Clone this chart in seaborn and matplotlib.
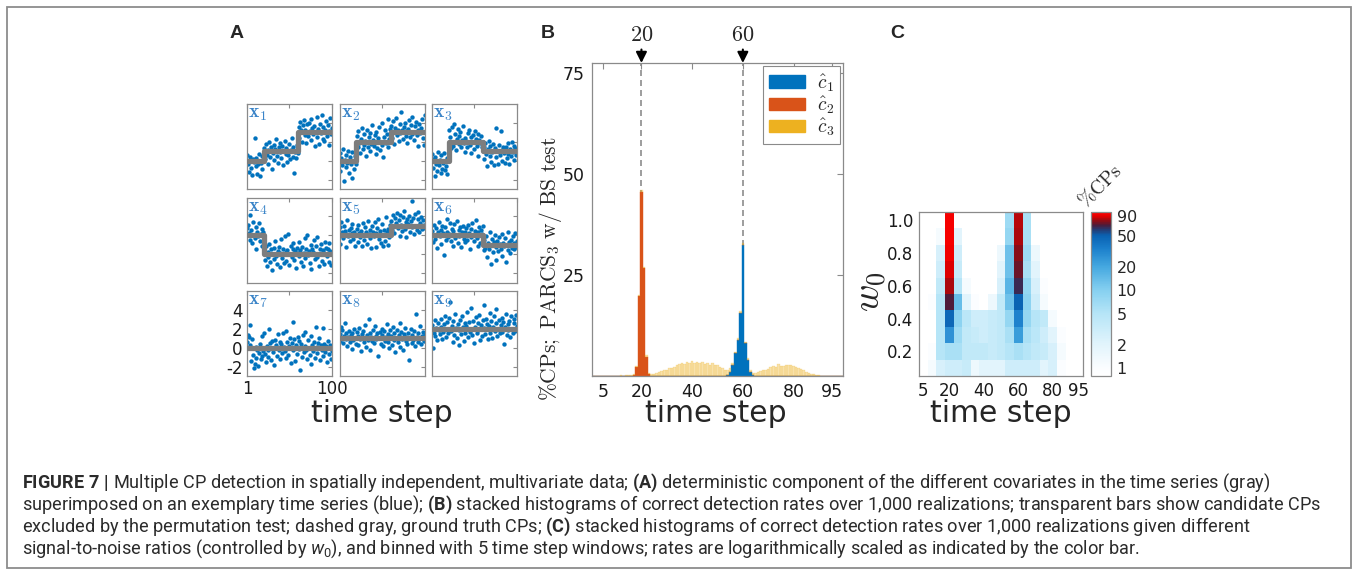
import numpy as np
import pandas as pd
import matplotlib
matplotlib.use("Agg")
import matplotlib.pyplot as plt
from matplotlib.colors import LogNorm, LinearSegmentedColormap, to_rgb
from matplotlib.patches import Patch, Rectangle
import seaborn as sns

# ---------------- (A) exemplary multivariate time series ----------------
time_steps = list(range(1, 101))
true_cps = [20, 60]

# deterministic level of each covariate on the segments [1-20], [21-60], [61-100]
levels_x1 = [0, 1, 3]
levels_x2 = [0, 2, 3]
levels_x3 = [0, 2, 1]
levels_x4 = [2, 0, 0]
levels_x5 = [2, 2, 3]
levels_x6 = [2, 2, 1]
levels_x7 = [0, 0, 0]
levels_x8 = [1, 1, 1]
levels_x9 = [2, 2, 2]

obs_x1 = [0.6, -0.3, -1.2, 0.1, 0.4, -0.8, -1.5, 0.2, -0.1, 2.4, -0.6, 0.3, -1.4, -0.4, 0.7, -1.6, -0.2, 0.5, -0.9, 0.0,
          1.3, 0.2, 1.8, 0.6, -0.4, 1.1, 2.0, 0.4, 1.5, -0.9, 0.8, 1.7, 0.1, 1.2, 2.3, 0.5, -0.2, 1.4, 0.9, 1.9,
          0.3, 1.6, -0.5, 1.0, 2.1, 0.7, 1.3, -0.1, 0.6, 1.8, 0.2, 1.1, 2.4, 0.4, 1.5, -1.3, 0.9, 0.3, 1.7, 0.8,
          3.6, 2.4, 4.1, 3.2, 2.0, 3.8, 4.3, 2.7, 3.3, 1.9, 3.9, 2.6, 4.0, 3.1, 2.2, 4.4, 3.5, 2.8, 3.7, 1.6,
          3.0, 4.6, 2.5, 3.4, 1.8, 3.9, 2.9, 4.8, 2.3, 3.6, 2.1, 3.3, 4.2, 2.6, 3.8, 1.7, 3.1, 4.5, 2.8, 3.5]
obs_x2 = [0.8, -1.1, 0.3, -0.5, 1.2, -2.1, 0.1, -0.7, 0.6, -0.2, 1.0, -1.3, 0.4, -0.4, -1.8, 0.9, 0.0, -0.9, 0.5, -0.3,
          2.6, 1.5, 3.1, 1.9, 0.8, 2.3, 3.5, 1.2, 2.8, 1.7, 2.1, 0.5, 3.3, 1.4, 2.5, 1.0, 2.9, 1.8, 3.8, 2.2,
          1.6, 2.7, 0.7, 3.0, 1.3, 2.4, 3.6, 1.1, 2.0, 4.0, 1.7, 0.4, 2.5, 3.2, 1.9, 2.8, 4.4, 1.5, 2.3, 3.4,
          3.7, 2.4, 4.2, 3.0, 1.8, 3.5, 4.5, 2.7, 3.2, 2.1, 3.9, 2.9, 5.2, 3.3, 2.3, 3.6, 4.0, 2.6, 3.1, 1.9,
          3.4, 4.3, 2.5, 3.8, 2.8, 4.6, 3.0, 2.2, 3.7, 4.1, 2.7, 3.3, 1.6, 3.9, 2.9, 3.5, 4.4, 2.4, 1.7, 4.8]
obs_x3 = [0.7, -0.8, 0.2, -1.6, 0.4, -0.3, -1.1, 0.9, -0.5, 0.1, -1.3, 0.6, -0.9, -0.2, 0.8, -1.0, -0.6, 0.3, -1.4, 0.0,
          3.2, 2.5, 1.3, 3.6, 2.0, 1.6, 3.9, 2.8, 1.1, 2.3, 3.4, 1.8, 2.6, 3.0, 1.4, 2.2, 3.7, 1.9, 2.4, 0.9,
          2.1, 1.5, 2.9, 3.3, 1.7, 2.5, 0.8, 2.0, 2.7, 1.2, 3.1, 2.3, 1.6, 2.8, 0.5, 2.2, 1.9, 2.6, 1.4, 2.0,
          1.4, 0.2, 1.9, 0.7, -0.6, 1.2, 2.1, 0.5, 1.6, -0.1, 0.9, 1.8, -0.5, 1.3, 0.4, 3.5, 1.0, -0.3, 1.7, 0.6,
          3.1, 1.1, 0.0, 1.5, 0.8, -0.2, 1.4, 0.3, 1.9, 0.7, -0.4, 1.2, 0.5, 2.0, 0.9, 1.6, 0.1, 1.3, 0.6, 1.0]
obs_x4 = [2.8, 3.1, 2.2, 1.5, 4.1, 2.6, 1.2, 3.4, 2.0, 1.7, 2.9, 0.6, 2.4, 1.9, 3.3, 1.4, 2.1, 2.7, 0.9, 2.3,
          0.4, -0.6, 0.9, -1.2, 0.2, -0.3, 1.1, -0.8, 0.5, -1.7, 0.0, 0.7, -0.5, 1.4, -0.2, -1.0, 0.3, 0.8, -1.4, 0.1,
          1.6, -0.4, 0.6, -0.9, 1.9, 0.2, -0.7, 0.4, 2.1, -1.1, 0.0, 0.9, -0.3, 0.5, 1.2, -0.6, 0.3, -1.5, 0.7, 0.1,
          -0.2, 1.3, 0.4, -0.8, 0.8, -1.3, 0.1, 1.7, -0.4, 0.6, 2.0, -0.1, 0.3, -0.9, 1.0, -1.6, 0.5, 0.2, 1.5, -0.5,
          0.9, -0.3, 1.8, 0.0, -1.2, 0.6, 1.1, -0.7, 0.2, 0.4, -1.0, 1.3, 0.7, -0.2, 0.5, 1.2, -0.8, 0.3, -1.1, 0.1]
obs_x5 = [2.9, 1.1, 3.4, 2.3, 1.7, 3.0, 2.5, 0.8, 2.1, 3.6, 1.9, 2.6, 1.4, 2.8, 2.2, 3.2, 1.6, 2.4, 0.9, 2.0,
          2.7, 1.3, 3.1, 2.2, 1.8, 2.5, 0.9, 3.3, 2.0, 1.5, 2.9, 2.4, 1.1, 3.5, 2.1, 1.7, 2.6, 0.7, 3.0, 2.3,
          1.9, 3.4, 2.2, 0.8, 2.8, 3.7, 1.6, 2.5, 1.2, 3.2, 2.0, 0.9, 2.6, 1.4, 3.9, 2.3, 1.0, 2.7, 1.8, 3.1,
          3.5, 2.6, 4.1, 3.0, 2.2, 3.8, 3.3, 4.4, 2.8, 3.6, 1.9, 4.2, 3.1, 2.5, 3.9, 4.6, 2.7, 3.4, 1.8, 3.7,
          3.2, 4.0, 2.4, 3.5, 5.6, 2.9, 3.8, 2.1, 4.3, 3.0, 2.6, 3.7, 4.5, 2.3, 3.3, 3.9, 2.7, 3.6, 3.1, 2.8]
obs_x6 = [2.5, 1.3, 3.1, 2.0, 1.6, 2.8, 0.7, 2.3, 3.4, 1.9, 2.6, 1.1, 3.0, 2.2, -0.1, 2.9, 1.5, 2.4, 3.7, 1.8,
          2.1, 3.3, 1.4, 2.7, 0.9, 2.5, 3.2, 1.7, 2.0, 3.5, 1.2, 2.6, 1.9, 2.9, 0.8, 2.3, 3.0, 1.6, 2.4, 1.3,
          2.8, 1.5, 3.1, 2.2, 0.6, 2.7, 1.8, 3.3, 2.0, 1.4, 2.5, 3.6, 1.7, 2.3, 0.9, 2.9, 1.2, 2.6, 2.1, 3.0,
          0.4, 1.5, 0.7, 1.9, -0.3, 1.2, 0.5, 2.3, 1.0, -1.0, 1.6, 0.2, 1.3, 2.0, 0.8, -0.6, 1.4, 0.3, 1.8, 1.1,
          0.6, 2.1, -0.2, 1.2, 0.9, 1.7, -0.8, 1.0, 0.4, 2.4, 1.3, 0.1, 1.5, 0.7, 1.9, 0.5, 1.2, 2.2, 0.8, 1.4]
obs_x7 = [0.6, 1.3, 1.1, 2.4, 0.3, -1.4, 0.9, -0.8, -2.2, -1.7, 0.1, -1.1, -0.3, -1.9, -0.6, 0.4, -1.2, 1.2, -0.9, -0.4,
          1.5, -0.7, -1.5, 0.2, -0.2, -1.0, 2.0, 0.5, -1.3, 0.7, -0.5, 0.0, -1.8, 0.8, 0.3, -0.9, 1.4, -0.3, 0.6, -1.2,
          0.4, -0.6, 1.6, 0.1, -0.4, 1.8, -1.1, 0.6, -0.8, 0.2, 1.0, -1.6, 0.5, 2.7, -0.2, 0.9, -1.4, 0.3, -0.7, 1.1,
          -0.1, 0.7, -2.4, 0.4, -1.0, 1.3, -0.5, 0.2, 1.7, -0.3, -1.2, 0.8, 0.0, -0.8, 1.2, -1.7, 0.3, -0.4, 0.6, -1.1,
          2.2, 0.1, -0.6, 0.5, 1.0, -1.3, 0.3, -0.2, 2.1, -0.9, 0.4, -0.5, 0.2, -1.5, 0.7, 0.0, -0.7, 0.3, -1.2, -0.4]
obs_x8 = [1.4, 0.7, 2.2, 1.9, 0.5, 1.2, 2.6, 0.9, 1.6, 0.2, 1.1, 1.8, 0.6, 1.3, -0.1, 1.5, 0.8, 2.0, 1.0, 0.4,
          1.7, 0.3, 1.2, 2.1, 0.9, -0.4, 1.4, 1.8, 0.6, 1.0, 2.4, 0.1, 1.3, 0.8, 3.0, 1.5, -0.2, 1.1, 0.7, 1.9,
          0.5, 2.3, 1.2, 0.9, 1.6, -0.9, 1.0, 1.7, 0.4, 2.0, 1.3, 0.2, 1.8, 0.7, 1.1, 2.5, 0.6, 1.4, 0.0, 1.9,
          1.2, 0.3, 2.2, 0.8, 1.5, -0.5, 1.0, 1.9, 0.6, 1.3, 2.6, 0.1, 1.7, 0.9, -0.3, 1.4, 2.1, 0.7, 1.1, 0.4,
          1.6, -1.3, 1.0, 2.0, 0.5, 1.3, 0.8, 1.8, 0.2, 3.6, 1.1, 0.6, 1.5, 0.9, 2.3, 0.4, 1.2, 1.7, 0.7, 1.4]
obs_x9 = [2.4, 0.0, 1.6, 2.9, 1.2, 2.1, 0.8, 2.6, 1.9, 1.4, 3.0, 2.2, 0.9, 1.7, 2.5, 3.3, 1.1, 2.0, 2.7, 1.5,
          3.1, 4.8, 1.8, 2.3, 0.6, 2.8, 1.3, 3.6, 2.1, 1.0, 2.5, 0.3, 1.9, 2.9, 1.4, 3.4, 2.2, 0.7, 2.6, 1.6,
          2.3, 3.8, 1.1, 2.7, 1.7, 2.0, 4.2, 1.3, 2.8, 0.5, 2.2, 3.2, 1.5, 2.6, 1.9, 3.5, 0.8, 2.4, 1.2, 2.9,
          2.1, 4.5, 1.4, 3.0, 2.5, 0.9, 2.3, 3.7, 1.6, 2.8, 1.0, 2.2, 3.3, 1.8, 2.6, 4.1, 1.2, 2.0, 2.9, 1.5,
          2.4, 3.1, 1.7, 2.7, 0.4, 2.2, 3.6, 1.3, 2.5, 1.9, 2.8, 1.1, 3.4, 2.0, 1.6, 2.6, 3.0, 1.8, 3.5, 2.3]

# ---------------- (B) detection rates per time step (%) ----------------
hist_steps = list(range(1, 100))
rate_c1 = {54: 0.3, 55: 1.1, 56: 2.7, 57: 5.6, 58: 8.9, 59: 15.5, 60: 32.5,
           61: 8.1, 62: 4.0, 63: 1.1, 64: 0.3}
rate_c2 = {17: 0.3, 18: 2.2, 19: 19.7, 20: 45.5, 21: 26.7, 22: 4.8, 23: 0.4}
rate_c3 = [0, 0, 0, 0, 0, 0, 0, 0, 0,
           0.1, 0.1, 0.2, 0.1, 0.2, 0.3, 0.2,
           0.3, 0.3, 0.4, 0.5, 0.4, 0.3, 0.3,
           0.4, 0.6, 0.8, 0.9, 1.2, 1.4, 1.6, 1.9, 2.1, 2.3, 2.6, 3.0, 3.3,
           2.9, 3.5, 3.2, 3.6, 3.3, 3.5, 3.1, 3.4, 3.0, 3.3, 2.8, 3.2, 2.6, 2.7, 2.2, 1.9, 1.5, 1.1, 0.8, 0.5,
           0.4, 0.4, 0.5, 0.5, 0.4, 0.4, 0.4,
           0.5, 0.8, 1.0, 1.3, 1.4, 1.6, 1.7, 2.2, 2.5, 2.3, 3.0, 2.4, 2.5, 2.6, 2.7, 2.6, 2.5, 2.2, 2.0, 1.7,
           1.4, 1.0, 0.8, 0.6, 0.4, 0.3, 0.2, 0.1,
           0, 0, 0, 0, 0, 0, 0, 0]
legend_labels = [r"$\hat{c}_1$", r"$\hat{c}_2$", r"$\hat{c}_3$"]

# ---------------- (C) detection rates (%) by w0 and 5-step window ----------------
time_bins = [5, 10, 15, 20, 25, 30, 35, 40, 45, 50, 55, 60, 65, 70, 75, 80, 85, 90, 95]
w0_levels = [1.0, 0.9, 0.8, 0.7, 0.6, 0.5, 0.4, 0.3, 0.2, 0.1]
rate_w10 = [0, 0, 0, 96, 0, 0, 0, 0, 0, 0, 7, 82, 6, 0, 0, 0, 0, 0, 0]
rate_w09 = [0, 0, 1.2, 95, 2, 0, 0, 0, 0, 0, 8, 80, 6, 0, 0, 0, 0, 0, 0]
rate_w08 = [0, 0, 2.5, 94, 3, 0, 0, 0, 0, 1.5, 13, 76, 7, 1.5, 0, 0, 0, 0, 0]
rate_w07 = [0, 0, 3, 86, 3.5, 0, 0, 0, 0, 2, 13, 72, 6, 2, 0, 0, 0, 0, 0]
rate_w06 = [0, 0, 4, 80, 5, 1.2, 0, 0, 0, 2.5, 16, 64, 8, 2.5, 1, 0, 0, 0, 0]
rate_w05 = [0, 1, 5, 68, 14, 2, 1, 0, 1.5, 4, 13, 49, 9, 3, 1.2, 0, 0, 0, 0]
rate_w04 = [0, 0, 5, 47, 9, 4.5, 3, 3, 3.5, 4, 8, 33, 8, 5, 4, 1.2, 0, 0, 0]
rate_w03 = [0, 0, 5, 27, 7, 4, 3.5, 3, 3.5, 4, 6, 23, 6, 4.5, 3, 2, 1, 0, 0]
rate_w02 = [0, 1, 5, 6, 6, 4, 4, 4, 3.5, 4, 5, 6, 5, 4, 3.5, 2.5, 1.2, 0, 0]
rate_w01 = [0, 1.2, 2.5, 3, 3, 3.5, 1.5, 2, 2, 2, 3, 3, 3, 3, 2, 2.5, 1, 0, 0]
cbar_ticks = [1, 2, 5, 10, 20, 50, 90]

# ---------------- styling ----------------
sns.set_style("white")
plt.rcParams.update({
    "font.family": "DejaVu Sans",
    "mathtext.fontset": "cm",
    "mathtext.rm": "Roboto",
    "mathtext.it": "Roboto:italic",
    "mathtext.bf": "Roboto:bold",
})
BLUE, ORANGE, YELLOW = "#0072BD", "#D95319", "#EDB120"
SPINE = "#8a8a8a"
W, H = 1358, 575
fig = plt.figure(figsize=(W / 100, H / 100), dpi=100)


def px_axes(x, y, w, h):
    """Axes placed by its pixel box (left, top, width, height)."""
    return fig.add_axes([x / W, 1 - (y + h) / H, w / W, h / H])


def frame_axes(ax):
    for sp in ax.spines.values():
        sp.set_visible(True)
        sp.set_color(SPINE)
        sp.set_linewidth(0.9)
    ax.tick_params(direction="in", top=True, right=True, color=SPINE,
                   length=3, width=0.8, labelcolor="#1a1a1a")


def segment_series(levels):
    return [levels[0] if t <= true_cps[0] else levels[1] if t <= true_cps[1] else levels[2]
            for t in time_steps]


# ---------------- panel A ----------------
panels_A = [(obs_x1, levels_x1), (obs_x2, levels_x2), (obs_x3, levels_x3),
            (obs_x4, levels_x4), (obs_x5, levels_x5), (obs_x6, levels_x6),
            (obs_x7, levels_x7), (obs_x8, levels_x8), (obs_x9, levels_x9)]
A_left = [247, 339.5, 432]
A_top = [104, 197.5, 291]
for k, (obs, lev) in enumerate(panels_A):
    r, c = divmod(k, 3)
    ax = px_axes(A_left[c], A_top[r], 85, 85)
    sns.scatterplot(x=time_steps, y=obs, ax=ax, color=BLUE, s=10, linewidth=0, zorder=2)
    sns.lineplot(x=time_steps, y=segment_series(lev), ax=ax, color="#7d7d7d", lw=3.8,
                 drawstyle="steps-mid", zorder=3)
    ax.set(xlim=(1, 100), ylim=(-3, 6), xticks=[1, 50, 100], yticks=[-2, 0, 2, 4])
    frame_axes(ax)
    ax.tick_params(labelsize=12, pad=3)
    if k == 6:
        ax.set_xticklabels(["1", "", "100"])
        ax.set_yticklabels(["-2", "0", "2", "4"])
    else:
        ax.set_xticklabels([])
        ax.set_yticklabels([])
    ax.text(0.015, 0.995, r"$\mathbf{x}_{%d}$" % (k + 1), transform=ax.transAxes,
            ha="left", va="top", color="#3a84c8", fontsize=14, zorder=5)
fig.text(382 / W, 1 - 413 / H, "time step", ha="center", va="center", fontsize=21.5)

# ---------------- panel B ----------------
axB = px_axes(592, 63, 251, 313)
dfB = pd.concat([
    pd.DataFrame({"t": hist_steps, "pct": [rate_c1.get(t, 0) for t in hist_steps], "series": "c1"}),
    pd.DataFrame({"t": hist_steps, "pct": [rate_c2.get(t, 0) for t in hist_steps], "series": "c2"}),
    pd.DataFrame({"t": hist_steps, "pct": rate_c3, "series": "c3"}),
], ignore_index=True)
sns.histplot(data=dfB, x="t", weights="pct", hue="series", hue_order=["c3", "c2", "c1"],
             palette={"c1": BLUE, "c2": ORANGE, "c3": YELLOW}, multiple="stack",
             discrete=True, shrink=1, alpha=1, linewidth=0.3, legend=False, ax=axB)
for p in axB.patches:
    fc = p.get_facecolor()
    p.set_edgecolor(fc)
    if np.allclose(fc[:3], to_rgb(YELLOW), atol=0.02):
        p.set_alpha(0.38)
for cp in true_cps:
    axB.axvline(cp, color="#8c8c8c", lw=1.2, ls=(0, (3.6, 2.4)), zorder=0.5)
    axB.annotate(r"$%d$" % cp, xy=(cp, 1.0), xycoords=("data", "axes fraction"),
                 xytext=(cp, 1.058), textcoords=("data", "axes fraction"),
                 ha="center", va="bottom", fontsize=16, annotation_clip=False,
                 arrowprops=dict(arrowstyle="-|>", color="k", lw=1.5, mutation_scale=16,
                                 shrinkA=1, shrinkB=0))
axB.set(xlim=(0.5, 99.5), ylim=(0, 77.5), xticks=[5, 20, 40, 60, 80, 95], yticks=[25, 50, 75])
frame_axes(axB)
axB.tick_params(labelsize=12.5, pad=5, length=4)
axB.set_xlabel("time step", fontsize=21.5)
axB.xaxis.set_label_coords((716 - 592) / 251, (376 - 413) / 313)
axB.xaxis.label.set_va("center")
axB.set_ylabel(r"$\%\mathrm{CPs;\ PARCS}_3\ \mathrm{w/\ BS\ test}$", fontsize=15.5)
axB.yaxis.set_label_coords((550 - 592) / 251, (376 - 269) / 313)
axB.yaxis.label.set_va("center")
handles = [Patch(facecolor=col, edgecolor=col) for col in (BLUE, ORANGE, YELLOW)]
leg = axB.legend(handles, legend_labels, loc="upper right", bbox_to_anchor=(0.99, 0.99),
                 borderaxespad=0, fontsize=14, handlelength=1.9, handleheight=0.6,
                 handletextpad=0.6, borderpad=0.3, labelspacing=0.02, fancybox=False,
                 framealpha=1)
leg.get_frame().set_edgecolor(SPINE)
leg.get_frame().set_linewidth(0.8)

# ---------------- panel C ----------------
axC = px_axes(919, 212, 164, 164)
caxC = px_axes(1091, 212, 20, 164)
norm = LogNorm(vmin=0.8, vmax=100)
cmap_nodes = [(0.8, "#ffffff"), (1, "#fbfdff"), (2, "#e2f4fc"), (5, "#b6e5f7"),
              (10, "#86d0f0"), (20, "#45a8e0"), (35, "#1a7ecb"), (50, "#0a62b2"),
              (60, "#243c74"), (68, "#4a1c3c"), (78, "#900c14"), (88, "#e00000"),
              (100, "#ff0000")]
cmap = LinearSegmentedColormap.from_list(
    "cps", [(float(norm(v)), c) for v, c in cmap_nodes])
cmap.set_bad("white")
cmap.set_under("white")
dfC = pd.DataFrame([rate_w10, rate_w09, rate_w08, rate_w07, rate_w06,
                    rate_w05, rate_w04, rate_w03, rate_w02, rate_w01],
                   index=w0_levels, columns=time_bins)
sns.heatmap(dfC, ax=axC, cbar_ax=caxC, cmap=cmap, norm=norm,
            xticklabels=False, yticklabels=False)
frame_axes(axC)
xt = [5, 20, 40, 60, 80, 95]
axC.set_xticks([(t - 2.5) / 5 for t in xt])
axC.set_xticklabels([str(t) for t in xt])
axC.set_yticks([j + 0.5 for j in range(len(w0_levels))])
axC.set_yticklabels([("%.1f" % w if j % 2 == 0 else "") for j, w in enumerate(w0_levels)])
axC.tick_params(labelsize=12, pad=4, rotation=0)
axC.set_xlabel("time step", fontsize=21.5)
axC.xaxis.set_label_coords(0.5, (376 - 413) / 164)
axC.xaxis.label.set_va("center")
axC.set_ylabel(r"$w_0$", fontsize=27, rotation=90)
axC.yaxis.set_label_coords((871 - 919) / 164, (376 - 292) / 164)
axC.yaxis.label.set_va("center")

cb = axC.collections[0].colorbar
cb.set_ticks(cbar_ticks)
cb.set_ticklabels([str(v) for v in cbar_ticks])
cb.outline.set_linewidth(0.9)
cb.outline.set_edgecolor(SPINE)
cb.ax.tick_params(which="both", direction="in", color=SPINE, labelsize=11.5, pad=4)
cb.ax.tick_params(which="major", length=3)
cb.ax.tick_params(which="minor", length=2)
fig.text(1100 / W, 1 - 186 / H, r"$\%\mathrm{CPs}$", rotation=45, ha="center", va="center",
         fontsize=14)

# ---------------- panel letters, frame and caption ----------------
for letter, x in (("A", 237), ("B", 548), ("C", 897)):
    fig.text(x / W, 1 - 33 / H, letter, ha="center", va="center", fontsize=14,
             fontweight="bold", family="Liberation Sans")

fig.add_artist(Rectangle((7 / W, 1 - 568 / H), (1351 - 7) / W, (568 - 7) / H,
                         transform=fig.transFigure, fill=False, ec="#8c8c8c", lw=1.3))

caption = [
    r"$\mathbf{FIGURE\ 7\ |}$ Multiple CP detection in spatially independent, multivariate data; "
    r"$\mathbf{(A)}$ deterministic component of the different covariates in the time series (gray)",
    r"superimposed on an exemplary time series (blue); $\mathbf{(B)}$ stacked histograms of correct "
    r"detection rates over 1,000 realizations; transparent bars show candidate CPs",
    r"excluded by the permutation test; dashed gray, ground truth CPs; $\mathbf{(C)}$ stacked "
    r"histograms of correct detection rates over 1,000 realizations given different",
    r"signal-to-noise ratios (controlled by $\mathit{w}_0$), and binned with 5 time step windows; "
    r"rates are logarithmically scaled as indicated by the color bar.",
]
for i, line in enumerate(caption):
    fig.text(22 / W, 1 - (483 + 22 * i) / H, line, ha="left", va="center", fontsize=13.1,
             family="Roboto", color="#2b2b2b", math_fontfamily="custom")

fig.savefig("out.png", dpi=100)
